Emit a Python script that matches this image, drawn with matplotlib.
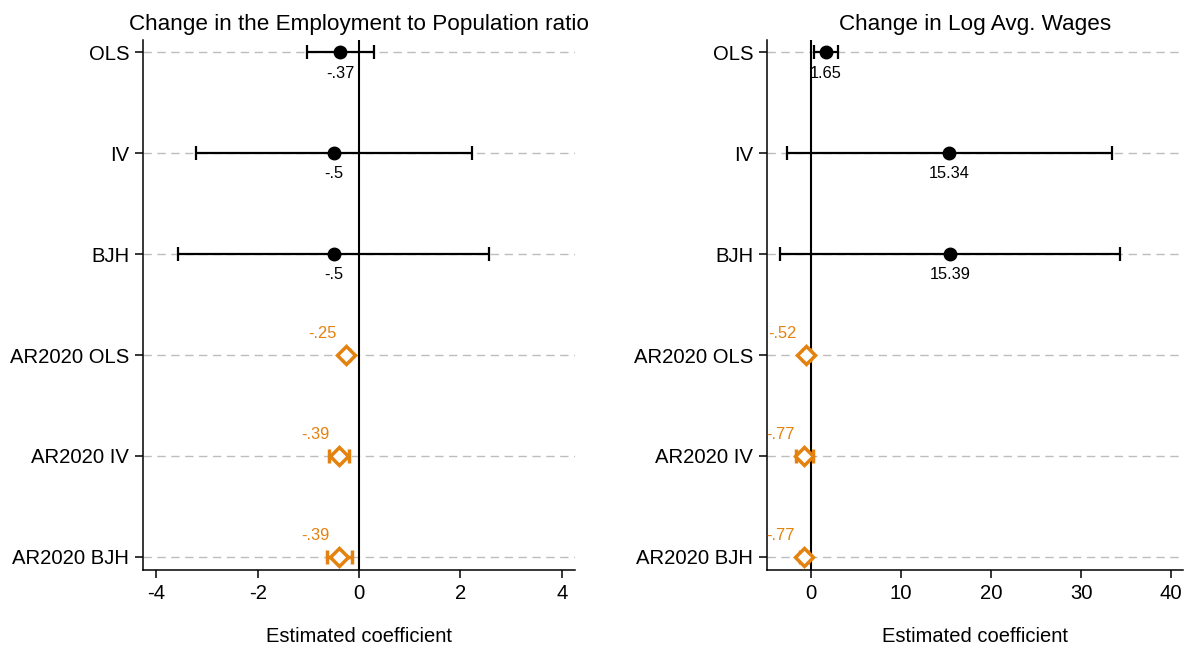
import matplotlib
matplotlib.use("Agg")
import matplotlib.pyplot as plt

plt.rcParams['font.family'] = ['Liberation Sans', 'DejaVu Sans']

models = ["OLS", "IV", "BJH", "AR2020 OLS", "AR2020 IV", "AR2020 BJH"]

# Employment to population ratio
emp_coef = [-0.37, -0.50, -0.50, -0.25, -0.39, -0.39]
emp_lo = [-1.03, -3.22, -3.57, -0.30, -0.59, -0.64]
emp_hi = [0.30, 2.22, 2.57, -0.20, -0.19, -0.14]

# Log average wages
wage_coef = [1.65, 15.34, 15.39, -0.52, -0.77, -0.77]
wage_lo = [0.26, -2.70, -3.50, -0.90, -1.67, -1.20]
wage_hi = [3.03, 33.40, 34.30, -0.15, 0.22, -0.35]

# first three rows are own estimates, last three are AR2020 estimates
is_ar = [False, False, False, True, True, True]

emp_ticks = [-4, -2, 0, 2, 4]
wage_ticks = [0, 10, 20, 30, 40]

ORANGE = "#E3820F"


def fmt(v):
    s = f"{v:.2f}".rstrip("0").rstrip(".")
    s = s.replace("-0.", "-.")
    if s.startswith("0."):
        s = s[1:]
    return s


def panel(ax, title, coef, lo, hi, ticks, xlim):
    ypos = list(range(len(models)))
    for y in ypos:
        ax.axhline(y, color="#BDBDBD", lw=1.0, ls=(0, (6, 4)), zorder=0)
    ax.axvline(0, color="black", lw=1.5, zorder=1)
    for y, c, l, h, ar in zip(ypos, coef, lo, hi, is_ar):
        if ar:
            ax.errorbar(c, y, xerr=[[c - l], [h - c]], fmt="D", ms=9,
                        mfc="white", mec=ORANGE, mew=2.5, color=ORANGE,
                        elinewidth=2.5, capsize=5, capthick=2.5, zorder=3)
            ax.annotate(fmt(c), (c, y), xytext=(-17, 15.5),
                        textcoords="offset points", ha="center", va="center",
                        color=ORANGE, fontsize=11.8)
        else:
            ax.errorbar(c, y, xerr=[[c - l], [h - c]], fmt="o", ms=9,
                        color="black", elinewidth=1.6, capsize=5,
                        capthick=1.6, zorder=3)
            ax.annotate(fmt(c), (c, y), xytext=(0, -15),
                        textcoords="offset points", ha="center", va="center",
                        color="black", fontsize=11.8)
    ax.set_yticks(ypos)
    ax.set_yticklabels(models)
    ax.set_ylim(len(models) - 1 + 0.13, -0.12)
    ax.set_xticks(ticks)
    ax.set_xticklabels([str(t) for t in ticks])
    ax.set_xlim(*xlim)
    ax.set_xlabel("Estimated coefficient", fontsize=14.5, labelpad=17)
    ax.set_title(title, fontsize=16.2, pad=7)
    for side in ("top", "right"):
        ax.spines[side].set_visible(False)
    for side in ("left", "bottom"):
        ax.spines[side].set_linewidth(1.1)
    ax.tick_params(axis="both", labelsize=14.6, length=6, width=1.1, pad=4)


fig = plt.figure(figsize=(11.85, 6.47), dpi=100)
ax1 = fig.add_axes([0.1207, 0.119, 0.3646, 0.819])
ax2 = fig.add_axes([0.6473, 0.119, 0.351, 0.819])

panel(ax1, "Change in the Employment to Population ratio",
      emp_coef, emp_lo, emp_hi, emp_ticks, (-4.26, 4.26))
panel(ax2, "Change in Log Avg. Wages",
      wage_coef, wage_lo, wage_hi, wage_ticks, (-4.9, 41.3))

fig.savefig("out.png", dpi=100, facecolor="white")
